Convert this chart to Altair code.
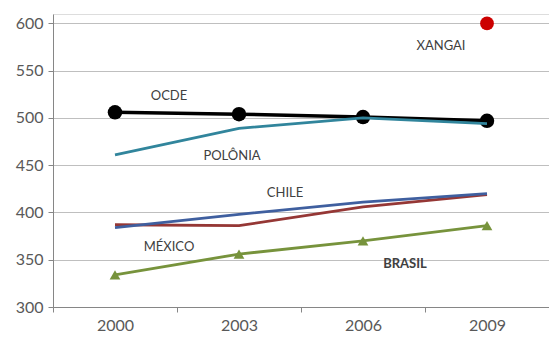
import altair as alt
import pandas as pd

years = ["2000", "2003", "2006", "2009"]
ocde = [506, 504, 501, 497]
polonia = [461, 489, 500, 494]
chile = [384, 398, 411, 420]
mexico = [387, 386, 406, 419]
brasil = [334, 356, 370, 386]
xangai_year = ["2009"]
xangai = [600]

series_names = ["OCDE", "Polônia", "México", "Chile", "Brasil"]
series_vals = [ocde, polonia, mexico, chile, brasil]
series_colors = ["#000000", "#31859C", "#953735", "#3F5F9F", "#77933C"]

label_text = ["OCDE", "POLÔNIA", "CHILE", "MÉXICO", "BRASIL", "XANGAI"]
label_year = ["2000", "2003", "2003", "2000", "2006", "2009"]
label_val = [523, 460, 421, 364, 346, 576]
label_dx = [54, -7, 46, 54, 42, -46]
label_bold = [False, False, False, False, True, False]

rows = []
for name, vals in zip(series_names, series_vals):
    for y, v in zip(years, vals):
        rows.append({"serie": name, "ano": y, "valor": v})
df = pd.DataFrame(rows)

x_enc = alt.X("ano:O", scale=alt.Scale(type="band", domain=years, paddingInner=0, paddingOuter=0),
              axis=alt.Axis(title=None, labelAngle=0, tickBand="extent", labelFontSize=16,
                            labelColor="#595959", labelFont="Lato", domainColor="#868686",
                            tickColor="#868686", tickSize=5, labelPadding=5, grid=False))
y_scale = alt.Scale(domain=[300, 610], nice=False, zero=False)
y_enc = alt.Y("valor:Q", scale=y_scale,
              axis=alt.Axis(title=None, values=[300, 350, 400, 450, 500, 550, 600],
                            labelFontSize=16, labelColor="#595959", labelFont="Lato",
                            domainColor="#868686", tickColor="#868686", tickSize=5,
                            labelPadding=5, gridColor="#BFBFBF", gridWidth=1))
color = alt.Color("serie:N", scale=alt.Scale(domain=series_names, range=series_colors), legend=None)

def line_for(name, width):
    return alt.Chart(df).transform_filter(alt.datum.serie == name).mark_line(strokeWidth=width).encode(
        x=x_enc, y=y_enc, color=color)

base_axes = alt.Chart(df).mark_point(opacity=0).encode(x=x_enc, y=y_enc)

ocde_line = line_for("OCDE", 3.5)
ocde_pts = alt.Chart(df).transform_filter(alt.datum.serie == "OCDE").mark_point(
    filled=True, size=210, opacity=1).encode(x=x_enc, y=y_enc, color=color)
mex_line = line_for("México", 2.8)
chile_line = line_for("Chile", 2.8)
pol_line = line_for("Polônia", 2.8)
bra_line = line_for("Brasil", 2.8)
bra_pts = alt.Chart(df).transform_filter(alt.datum.serie == "Brasil").mark_point(
    filled=True, shape="triangle-up", size=115, opacity=1).encode(x=x_enc, y=y_enc, color=color)

xdf = pd.DataFrame({"ano": xangai_year, "valor": xangai})
xangai_pt = alt.Chart(xdf).mark_point(filled=True, size=190, opacity=1, color="#CC0000").encode(
    x=x_enc, y=y_enc)

ldf = pd.DataFrame({"texto": label_text, "ano": label_year, "valor": label_val,
                    "dx": label_dx, "bold": label_bold})
texts = []
for i in range(len(label_text)):
    sub = ldf.iloc[[i]]
    texts.append(alt.Chart(sub).mark_text(
        fontSize=13, font="Lato", color="#404040", dx=int(label_dx[i]),
        fontWeight="bold" if label_bold[i] else "normal").encode(
        x=x_enc, y=y_enc, text="texto:N"))

chart = alt.layer(base_axes, ocde_line, ocde_pts, pol_line, mex_line, chile_line, bra_line, bra_pts,
                  xangai_pt, *texts).properties(
    width=496, height=293,
    autosize=alt.AutoSizeParams(type="none"),
    padding={"left": 53, "top": 14, "right": 0, "bottom": 34},
).configure_view(stroke=None).configure(background="white")

chart.save("out.html", embed_options={"renderer": "svg", "actions": False})
